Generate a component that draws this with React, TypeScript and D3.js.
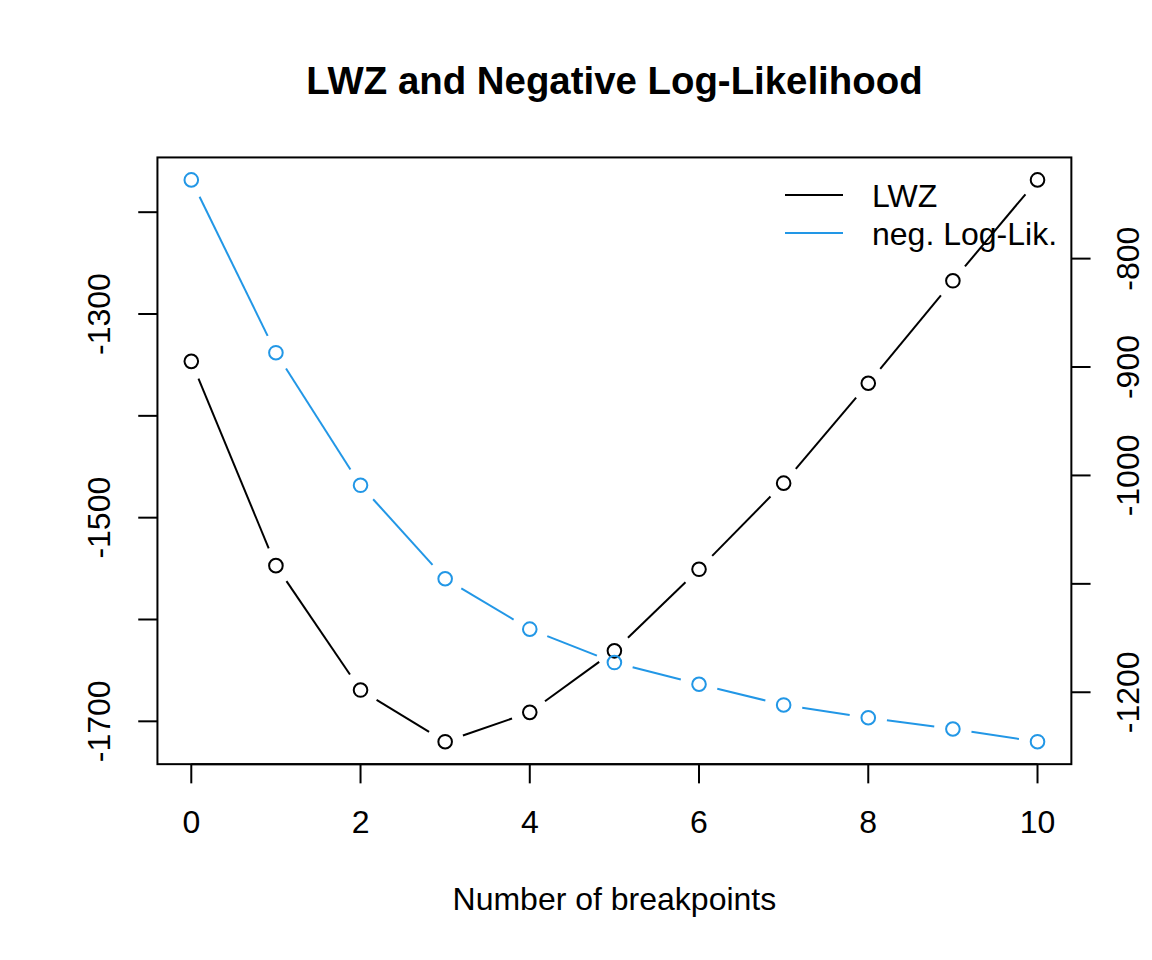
import React from "react";
import * as d3 from "d3";

const breakpoints = [0, 1, 2, 3, 4, 5, 6, 7, 8, 9, 10];
const lwzValues = [-1346.5, -1547.1, -1669.3, -1720.0, -1691.2, -1630.8, -1550.7, -1466.1, -1368.0, -1267.4, -1168.3];
const negLogLikValues = [-727.4, -886.8, -1009.1, -1095.3, -1141.8, -1172.6, -1192.6, -1211.7, -1223.5, -1233.9, -1245.6];
const xTicks = [0, 2, 4, 6, 8, 10];
const leftTicks = [-1200, -1300, -1400, -1500, -1600, -1700];
const leftLabels = [-1300, -1500, -1700];
const rightTicks = [-800, -900, -1000, -1100, -1200];
const rightLabels = [-800, -900, -1000, -1200];
const legendItems = [
  { label: "LWZ", color: "#000000" },
  { label: "neg. Log-Lik.", color: "#2297E6" },
];

const W = 1152;
const H = 960;
const LINE = 38.4;
const FONT = "'Liberation Sans', Arial, Helvetica, sans-serif";
const plot = { left: 4.1 * LINE, right: W - 2.1 * LINE, top: 4.1 * LINE, bottom: H - 5.1 * LINE };

function padded(vals: number[]): [number, number] {
  const [mn, mx] = d3.extent(vals) as [number, number];
  const p = (mx - mn) * 0.04;
  return [mn - p, mx + p];
}

const x = d3.scaleLinear().domain(padded(breakpoints)).range([plot.left, plot.right]);
const yL = d3.scaleLinear().domain(padded(lwzValues)).range([plot.bottom, plot.top]);
const yR = d3.scaleLinear().domain(padded(negLogLikValues)).range([plot.bottom, plot.top]);

const GAP = 18.8;
const R = 6.8;

function Series({ values, y, color }: { values: number[]; y: d3.ScaleLinear<number, number>; color: string }) {
  const pts = breakpoints.map((b, i) => [x(b), y(values[i])] as [number, number]);
  const segs: string[] = [];
  for (let i = 0; i < pts.length - 1; i++) {
    const [x0, y0] = pts[i];
    const [x1, y1] = pts[i + 1];
    const dx = x1 - x0, dy = y1 - y0;
    const len = Math.hypot(dx, dy);
    if (len <= 2 * GAP) continue;
    const ux = dx / len, uy = dy / len;
    const path = d3.path();
    path.moveTo(x0 + ux * GAP, y0 + uy * GAP);
    path.lineTo(x1 - ux * GAP, y1 - uy * GAP);
    segs.push(path.toString());
  }
  return (
    <g>
      {segs.map((d, i) => (
        <path key={"s" + i} d={d} stroke={color} strokeWidth={2} fill="none" />
      ))}
      {pts.map(([px, py], i) => (
        <circle key={"c" + i} cx={px} cy={py} r={R} stroke={color} strokeWidth={2} fill="none" />
      ))}
    </g>
  );
}

export default function App() {
  const tickLen = 19.2;
  const midX = (plot.left + plot.right) / 2;
  const legendX0 = 785;
  const legendX1 = 843;
  const legendY0 = 195;
  const legendStep = 38;
  return (
    <svg
      width={W}
      height={H}
      viewBox={`0 0 ${W} ${H}`}
      style={{ position: "absolute", left: 0, top: 0, display: "block", background: "#fff" }}
      fontFamily={FONT}
    >
      <rect x={0} y={0} width={W} height={H} fill="#fff" />
      <text x={midX} y={94} textAnchor="middle" fontSize={38.4} fontWeight="bold" fill="#000">
        LWZ and Negative Log-Likelihood
      </text>

      <Series values={lwzValues} y={yL} color={legendItems[0].color} />
      <Series values={negLogLikValues} y={yR} color={legendItems[1].color} />

      <rect
        x={plot.left}
        y={plot.top}
        width={plot.right - plot.left}
        height={plot.bottom - plot.top}
        fill="none"
        stroke="#000"
        strokeWidth={2}
      />

      {/* x axis */}
      <line x1={x(xTicks[0])} x2={x(xTicks[xTicks.length - 1])} y1={plot.bottom} y2={plot.bottom} stroke="#000" strokeWidth={2} />
      {xTicks.map((t) => (
        <g key={"x" + t}>
          <line x1={x(t)} x2={x(t)} y1={plot.bottom} y2={plot.bottom + tickLen} stroke="#000" strokeWidth={2} />
          <text x={x(t)} y={833} textAnchor="middle" fontSize={32} fill="#000">
            {t}
          </text>
        </g>
      ))}
      <text x={midX} y={910} textAnchor="middle" fontSize={32} fill="#000">
        Number of breakpoints
      </text>

      {/* left axis */}
      {leftTicks.map((t) => (
        <line key={"l" + t} x1={plot.left - tickLen} x2={plot.left} y1={yL(t)} y2={yL(t)} stroke="#000" strokeWidth={2} />
      ))}
      {leftLabels.map((t) => (
        <text
          key={"ll" + t}
          transform={`translate(110, ${yL(t)}) rotate(-90)`}
          textAnchor="middle"
          fontSize={32}
          fill="#000"
        >
          {t}
        </text>
      ))}

      {/* right axis */}
      {rightTicks.map((t) => (
        <line key={"r" + t} x1={plot.right} x2={plot.right + tickLen} y1={yR(t)} y2={yR(t)} stroke="#000" strokeWidth={2} />
      ))}
      {rightLabels.map((t) => (
        <text
          key={"rl" + t}
          transform={`translate(1139, ${yR(t)}) rotate(-90)`}
          textAnchor="middle"
          fontSize={32}
          fill="#000"
        >
          {t}
        </text>
      ))}

      {/* legend */}
      {legendItems.map((it, i) => {
        const ly = legendY0 + i * legendStep;
        return (
          <g key={"lg" + i}>
            <line x1={legendX0} x2={legendX1} y1={ly} y2={ly} stroke={it.color} strokeWidth={2} />
            <text x={872} y={ly + 11.5} fontSize={32} fill="#000">
              {it.label}
            </text>
          </g>
        );
      })}
    </svg>
  );
}
